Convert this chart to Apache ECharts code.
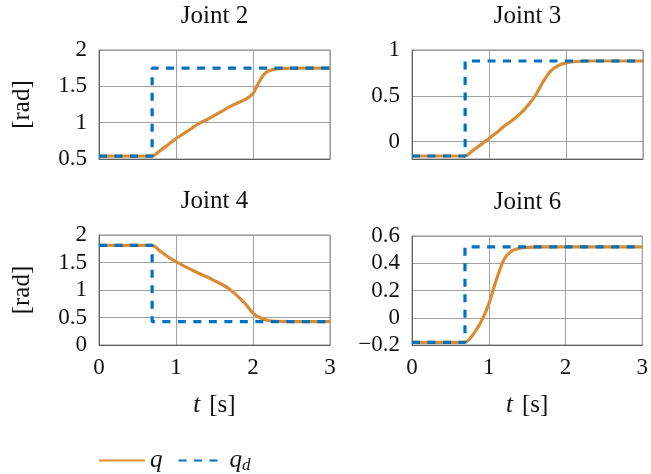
<!DOCTYPE html>
<html><head><meta charset="utf-8">
<script src="https://cdn.jsdelivr.net/npm/echarts@6/dist/echarts.min.js"></script>
<style>html,body{margin:0;padding:0;background:#fff}#c{width:651px;height:474px}</style>
</head><body><div id="c"></div>
<script>
// ---- data ----
const titles = ['Joint 2', 'Joint 3', 'Joint 4', 'Joint 6'];
const xTicks = [0, 1, 2, 3];
const yTicks2 = [0.5, 1, 1.5, 2];
const yTicks3 = [0, 0.5, 1];
const yTicks4 = [0, 0.5, 1, 1.5, 2];
const yTicks6 = [-0.2, 0, 0.2, 0.4, 0.6];

const j2T = [0, 0.69, 0.8, 0.9, 1.0, 1.1, 1.2, 1.3, 1.4, 1.5, 1.6, 1.7, 1.8, 1.9, 2.0, 2.05, 2.1, 2.15, 2.2, 2.3, 2.4, 2.6, 3];
const j2Q = [0.54, 0.54, 0.62, 0.70, 0.78, 0.85, 0.92, 0.99, 1.04, 1.10, 1.16, 1.22, 1.27, 1.32, 1.40, 1.50, 1.60, 1.67, 1.71, 1.74, 1.748, 1.75, 1.75];
const j2DT = [0, 0.69, 0.69, 3];
const j2D = [0.54, 0.54, 1.75, 1.75];

const j3T = [0, 0.69, 0.8, 0.9, 1.0, 1.1, 1.2, 1.3, 1.4, 1.5, 1.6, 1.7, 1.8, 1.9, 2.0, 2.1, 2.3, 3];
const j3Q = [-0.157, -0.157, -0.09, -0.03, 0.035, 0.10, 0.17, 0.23, 0.30, 0.39, 0.50, 0.65, 0.77, 0.83, 0.86, 0.872, 0.88, 0.88];
const j3DT = [0, 0.69, 0.69, 3];
const j3D = [-0.157, -0.157, 0.88, 0.88];

const j4T = [0, 0.69, 0.8, 0.9, 1.0, 1.1, 1.2, 1.3, 1.4, 1.5, 1.6, 1.7, 1.8, 1.9, 2.0, 2.1, 2.2, 2.3, 3];
const j4Q = [1.81, 1.81, 1.70, 1.60, 1.515, 1.44, 1.37, 1.30, 1.24, 1.17, 1.10, 1.01, 0.89, 0.75, 0.58, 0.49, 0.445, 0.43, 0.425];
const j4DT = [0, 0.69, 0.69, 3];
const j4D = [1.81, 1.81, 0.425, 0.425];

const j6T = [0, 0.69, 0.8, 0.9, 1.0, 1.1, 1.2, 1.3, 1.4, 1.5, 1.7, 3];
const j6Q = [-0.18, -0.18, -0.12, -0.03, 0.10, 0.28, 0.43, 0.49, 0.51, 0.517, 0.52, 0.52];
const j6DT = [0, 0.69, 0.69, 3];
const j6D = [-0.18, -0.18, 0.52, 0.52];

// ---- chart ----
const FONT = 'Liberation Serif';
const ORANGE = '#D98C34';
const BLUE = '#0072BD';
const zip = (a, b) => a.map((v, i) => [v, b[i]]);
const fmt = v => String(+v.toFixed(2)).replace('-', '\u2212');

const grids = [
  {left: 99, top: 50, width: 231, height: 109},
  {left: 412, top: 50, width: 231, height: 109},
  {left: 99, top: 235, width: 231, height: 110},
  {left: 412, top: 236, width: 231, height: 109}
];
const yCfg = [
  {min: 0.5, max: 2, interval: 0.5},
  {min: -0.19, max: 1, minInterval: 0.5, maxInterval: 0.5},
  {min: 0, max: 2, interval: 0.5},
  {min: -0.2, max: 0.6, interval: 0.2}
];
const qData = [zip(j2T, j2Q), zip(j3T, j3Q), zip(j4T, j4Q), zip(j6T, j6Q)];
const dData = [zip(j2DT, j2D), zip(j3DT, j3D), zip(j4DT, j4D), zip(j6DT, j6D)];

const option = {
  animation: false,
  backgroundColor: '#fff',
  title: grids.map((g, i) => ({
    text: titles[i], left: g.left + g.width / 2, top: g.top - 46, textAlign: 'center', padding: 0,
    textStyle: {fontFamily: FONT, fontSize: 25, fontWeight: 'normal', color: '#111'}
  })),
  grid: grids.map(g => Object.assign({show: true, borderColor: '#888888', borderWidth: 1, containLabel: false}, g)),
  xAxis: grids.map((g, i) => ({
    type: 'value', gridIndex: i, min: 0, max: 3, interval: 1,
    axisLine: {show: true, onZero: false, lineStyle: {color: '#606060', width: 1}},
    axisTick: {show: false},
    splitLine: {show: true, lineStyle: {color: '#a0a0a0', width: 1}},
    axisLabel: {show: i >= 2, margin: 11, fontFamily: FONT, fontSize: 23, color: '#111', formatter: fmt},
    name: i >= 2 ? '{i|t}[s]' : '', nameLocation: 'middle', nameGap: 48,
    nameTextStyle: {fontFamily: FONT, fontSize: 25, color: '#111', rich: {i: {fontStyle: 'italic', fontFamily: FONT, fontSize: 25, color: '#111', padding: [0, 9, 0, 0]}}}
  })),
  yAxis: grids.map((g, i) => Object.assign({
    type: 'value', gridIndex: i,
    axisLine: {show: true, onZero: false, lineStyle: {color: '#606060', width: 1}},
    axisTick: {show: false},
    splitLine: {show: true, lineStyle: {color: '#a0a0a0', width: 1}},
    axisLabel: {margin: 12, fontFamily: FONT, fontSize: 23, color: '#111', formatter: fmt, showMinLabel: i !== 1},
    name: (i % 2 === 0) ? '[rad]' : '', nameLocation: 'middle', nameGap: 64, nameRotate: 90,
    nameTextStyle: {fontFamily: FONT, fontSize: 25, color: '#111'}
  }, yCfg[i])),
  legend: {
    left: 93, top: 443, itemWidth: 46, itemHeight: 16, itemGap: 15,
    data: ['q', 'qd'],
    itemStyle: {color: 'rgba(0,0,0,0)', borderColor: 'rgba(0,0,0,0)', borderWidth: 0, opacity: 0},
    formatter: n => n === 'q' ? '{i|q}' : '{i|q}{s|d}',
    textStyle: {fontFamily: FONT, fontSize: 22, color: '#111', padding: [0, 0, 0, 0],
      rich: {i: {fontStyle: 'italic', fontFamily: FONT, fontSize: 25, color: '#111'},
             s: {fontStyle: 'italic', fontFamily: FONT, fontSize: 17, color: '#111', padding: [10, 0, 0, 0]}}}
  },
  series: []
};
for (let i = 0; i < 4; i++) {
  option.series.push({
    name: 'q', type: 'line', xAxisIndex: i, yAxisIndex: i, data: qData[i], smooth: 0.25,
    showSymbol: false, symbol: 'none', color: ORANGE, lineStyle: {color: ORANGE, width: 3.2}
  });
  option.series.push({
    name: 'qd', type: 'line', xAxisIndex: i, yAxisIndex: i, data: dData[i],
    showSymbol: false, symbol: 'none', color: BLUE,
    lineStyle: {color: BLUE, width: 3.2, type: [8, 7.5]}
  });
}
const chart = echarts.init(document.getElementById('c'), null, {renderer: 'canvas'});
chart.setOption(option);
</script></body></html>
